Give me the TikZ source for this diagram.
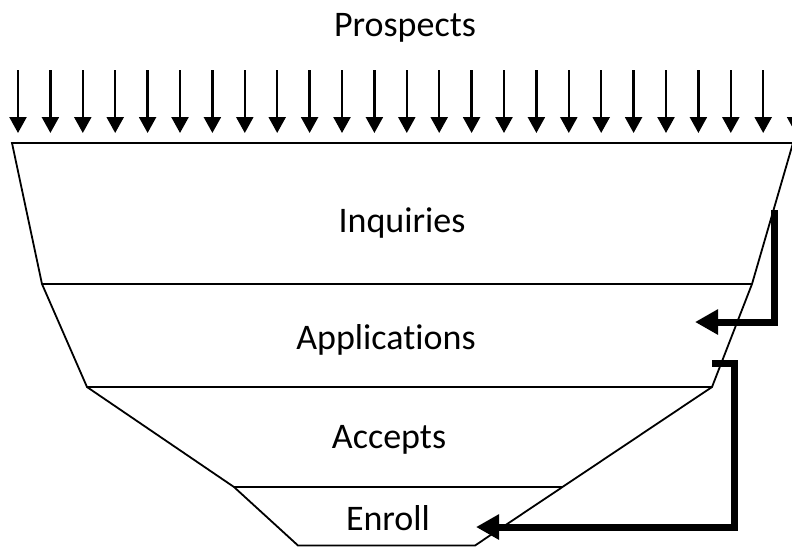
\documentclass[tikz,border=0pt]{standalone}
\usepackage{fontspec}
\setmainfont{Carlito}[Ligatures=NoCommon]
\usetikzlibrary{arrows.meta}

\begin{document}
\begin{tikzpicture}[
    x=1pt, y=-1pt,
    stage/.style={font=\fontsize{36}{43}\selectfont, anchor=base, inner sep=0pt},
    funnel/.style={line width=1.8pt, line join=miter},
    drop/.style={line width=2.4pt, -{Triangle[length=16pt, width=17pt]}},
    feed/.style={line width=7pt, line join=miter, -{Triangle[length=23pt, width=24pt]}}
]
    \useasboundingbox (0,0) rectangle (792,547);
    \clip (0,0) rectangle (792,547);

    % funnel corners
    \coordinate (tl) at (12,143);
    \coordinate (l1) at (42,284);
    \coordinate (l2) at (87,387);
    \coordinate (l3) at (234,487);
    \coordinate (bl) at (298,545.5);
    \coordinate (br) at (475,545.5);
    \coordinate (r3) at (563,487);
    \coordinate (r2) at (712,387);
    \coordinate (r1) at (752,284);
    \coordinate (tr) at (793,143);

    \draw[funnel] (tl) -- (l1) -- (l2) -- (l3) -- (bl) -- (br) -- (r2) -- (r1) -- (tr) -- cycle;
    \draw[funnel] (l1) -- (r1);
    \draw[funnel] (l2) -- (r2);
    \draw[funnel] (l3) -- (r3);

    % labels
    \node (prospects) [stage] at (405,36) {Prospects};
    \node (inquiries) [stage] at (402,232) {Inquiries};
    \node (applications) [stage] at (386,349) {Applicat\kern0pt ions};
    \node (accepts) [stage] at (389,448) {Accepts};
    \node (enroll) [stage] at (388,530) {Enroll};

    % incoming prospects
    \foreach \i in {0,...,24}
        \draw[drop] ({18+32.4*\i},70) -- ({18+32.4*\i},133);

    % feedback arrows
    \coordinate (fbA) at (774,210);
    \coordinate (toApp) at (695,322);
    \coordinate (fbB) at (712,363);
    \coordinate (toEnroll) at (476,527);
    \draw[feed] (fbA) |- (toApp);
    \draw[feed] (fbB) -- ++(22,0) |- (toEnroll);
\end{tikzpicture}
\end{document}
